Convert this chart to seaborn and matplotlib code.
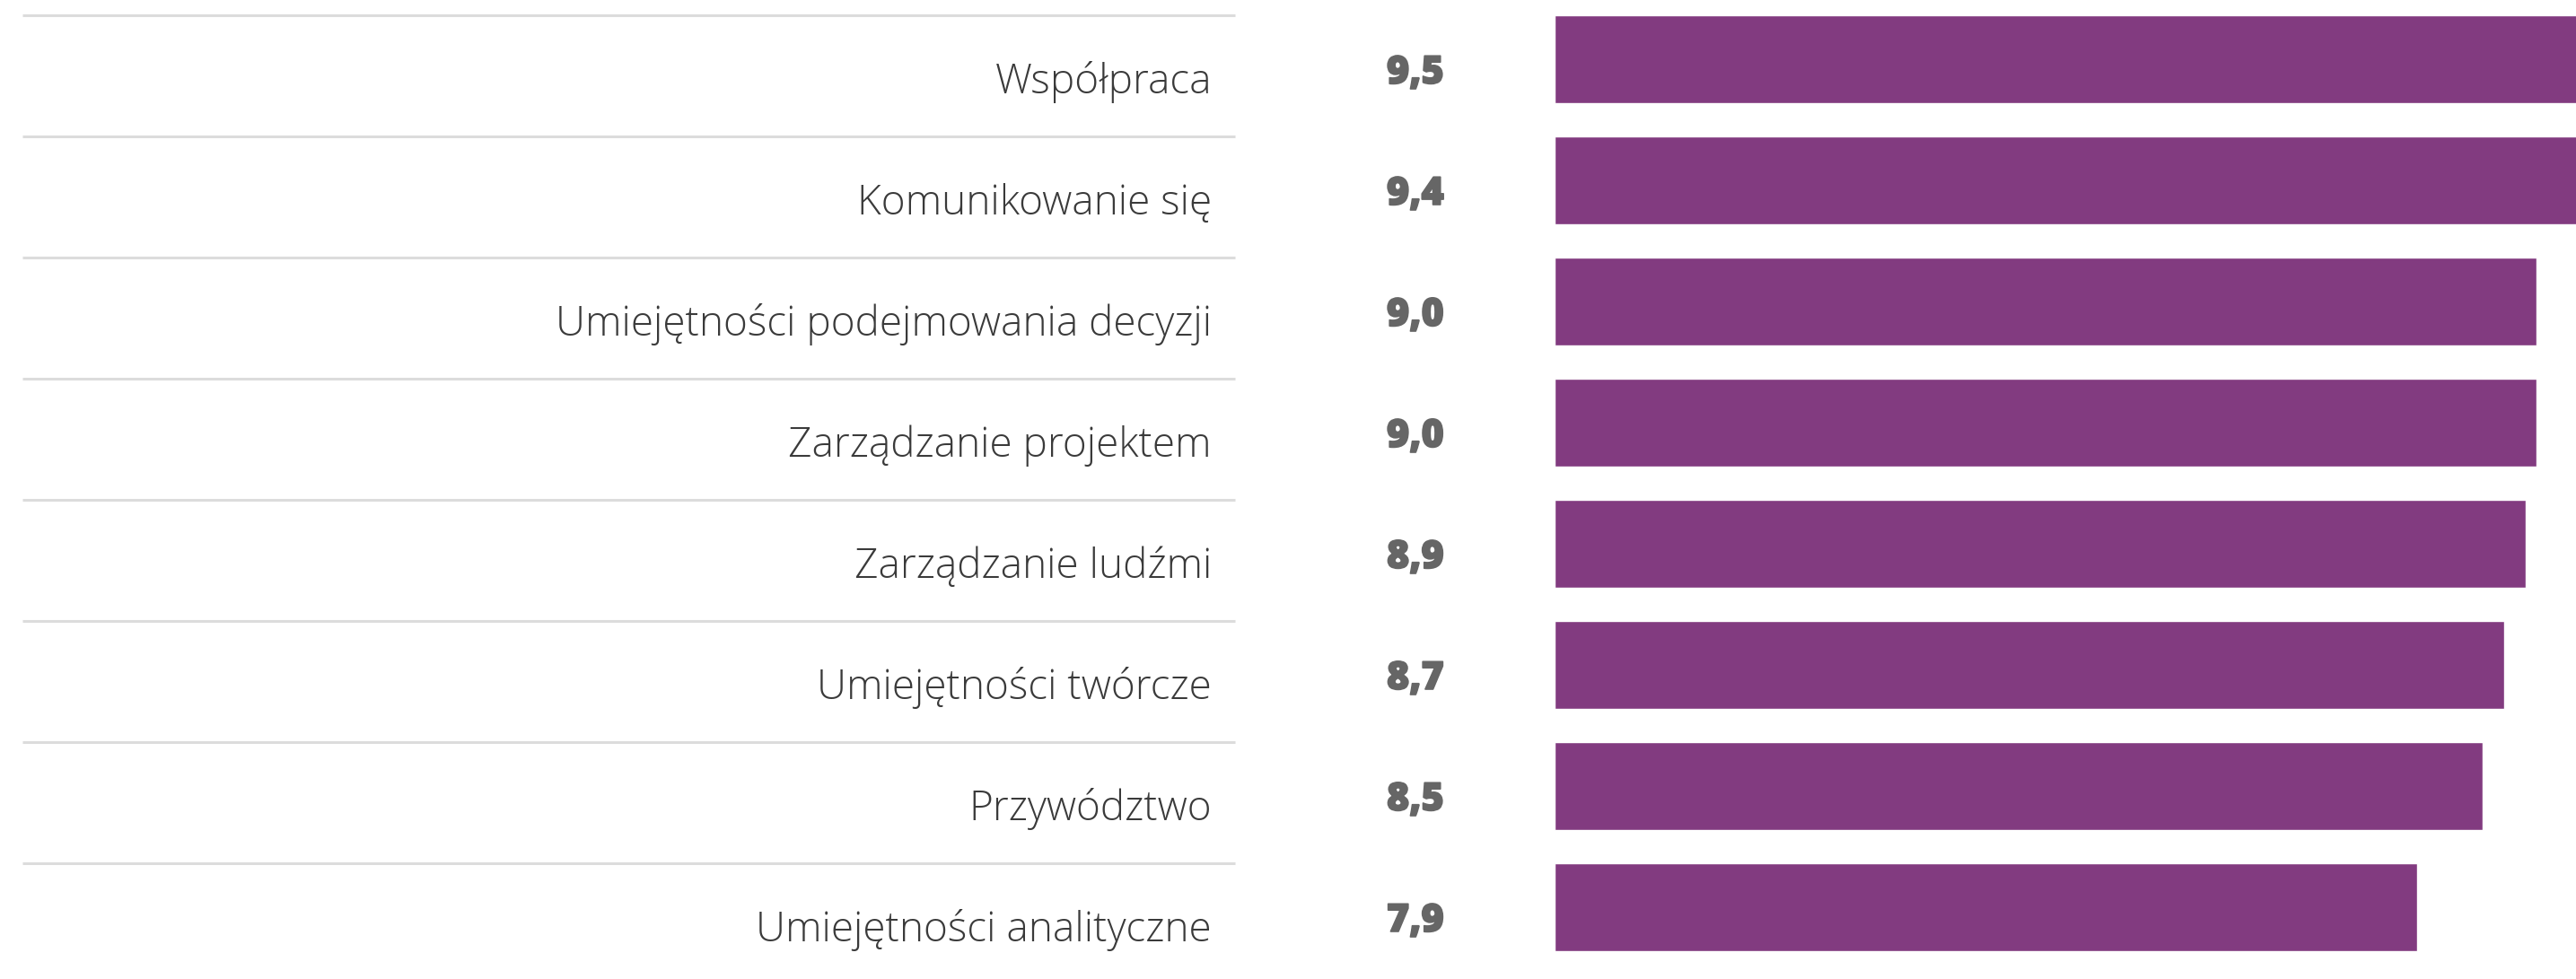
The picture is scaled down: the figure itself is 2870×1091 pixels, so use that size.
import matplotlib
matplotlib.use("Agg")
import matplotlib.pyplot as plt
import matplotlib.transforms as mtransforms
import matplotlib.patheffects as pe
import pandas as pd
import seaborn as sns

categories = [
    "Współpraca",
    "Komunikowanie się",
    "Umiejętności podejmowania decyzji",
    "Zarządzanie projektem",
    "Zarządzanie ludźmi",
    "Umiejętności twórcze",
    "Przywództwo",
    "Umiejętności analityczne",
]
scores = [9.5, 9.4, 9.0, 9.0, 8.9, 8.7, 8.5, 7.9]
score_labels = ["9,5", "9,4", "9,0", "9,0", "8,9", "8,7", "8,5", "7,9"]

df = pd.DataFrame({"skill": categories, "score": scores})

sns.set_theme(style="white")
plt.rcParams["font.family"] = ["Open Sans", "DejaVu Sans"]

W, H = 2870, 1091
fig = plt.figure(figsize=(W / 100, H / 100), dpi=100)
bar_left = 1732 / W
ax = fig.add_axes([bar_left, 0, 1 - bar_left, 1])

sns.barplot(data=df, x="score", y="skill", orient="h", color="#823b80",
            width=0.726, saturation=1, ax=ax)

ax.set_xlim(0, (W - 1732) / 121.6)
sep = 0.363
ax.set_ylim(-sep + (H - 17) / 135, -sep - 17 / 135)
ax.axis("off")

trans = mtransforms.blended_transform_factory(fig.transFigure, ax.transData)
for i, (name, lab) in enumerate(zip(categories, score_labels)):
    ax.plot([25 / W, 1376 / W], [i - sep, i - sep], transform=trans,
            color="#dcdcdc", linewidth=2.2, clip_on=False, solid_capstyle="butt")
    ax.text(1350 / W, i - sep + 87 / 135, name, transform=trans,
            ha="right", va="baseline", fontsize=33, fontweight="light",
            color="#3a3a3a", clip_on=False)
    ax.text(1545 / W, i - sep + 76 / 135, lab, transform=trans,
            ha="left", va="baseline", fontsize=31, fontweight=800,
            color="#666666", clip_on=False,
            path_effects=[pe.withStroke(linewidth=1.2, foreground="#666666")])

fig.savefig("out.png", dpi=100)
